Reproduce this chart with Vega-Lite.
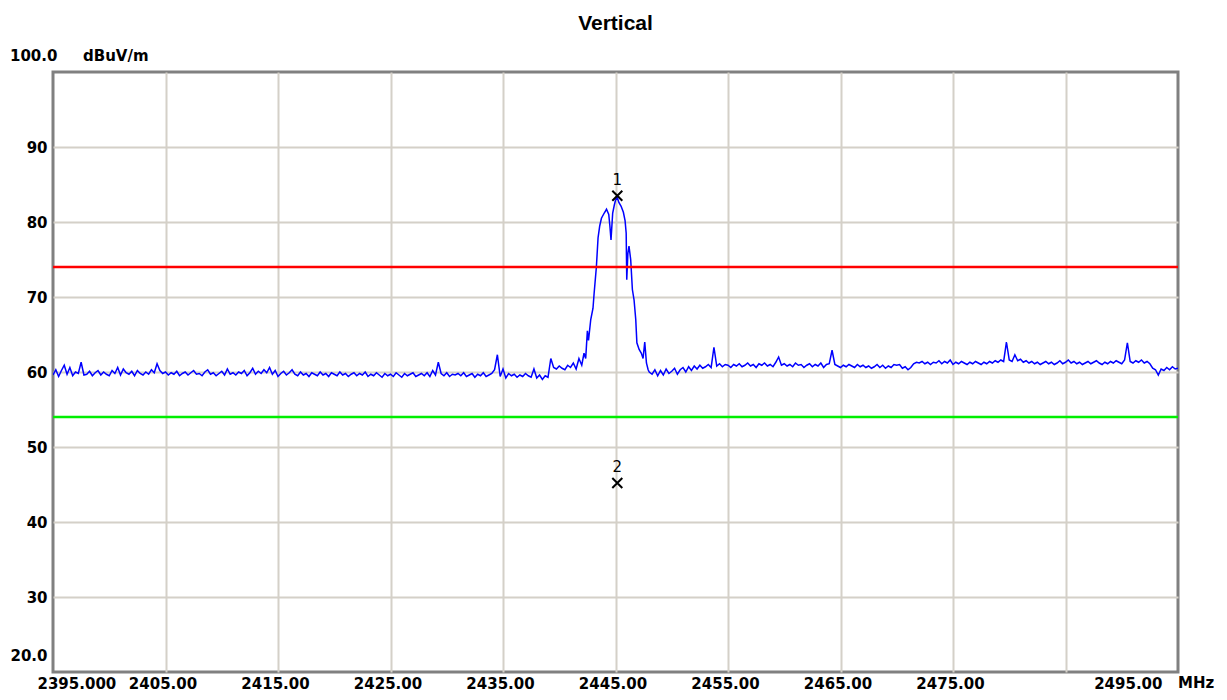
{
  "$schema": "https://vega.github.io/schema/vega-lite/v6.json",
  "width": 1125,
  "height": 600,
  "autosize": {"type": "none"},
  "padding": {"left": 53, "top": 72, "right": 49, "bottom": 28},
  "background": "white",
  "title": {"text": "Vertical", "font": "Liberation Sans", "fontSize": 21, "fontWeight": "bold", "color": "black", "anchor": "middle", "frame": "group", "baseline": "bottom", "offset": 10, "dy": 16},
  "config": {
    "view": {"stroke": "#808080", "strokeWidth": 3},
    "axis": {"domain": false, "ticks": false, "labelFont": "DejaVu Sans", "labelFontSize": 15, "labelFontWeight": "bold", "labelColor": "black", "gridColor": "#d4d0c8", "gridWidth": 2, "title": null}
  },
  "datasets": {
    "trace": [
      {"f":2395.00,"v":59.6},{"f":2395.25,"v":60.3},{"f":2395.50,"v":59.4},{"f":2395.75,"v":60.2},
      {"f":2396.00,"v":60.9},{"f":2396.25,"v":59.7},{"f":2396.50,"v":60.6},{"f":2396.75,"v":59.5},
      {"f":2397.00,"v":60.0},{"f":2397.25,"v":59.8},{"f":2397.50,"v":61.3},{"f":2397.75,"v":59.6},
      {"f":2398.00,"v":59.7},{"f":2398.25,"v":60.1},{"f":2398.50,"v":59.5},{"f":2398.75,"v":59.9},
      {"f":2399.00,"v":60.2},{"f":2399.25,"v":59.6},{"f":2399.50,"v":60.0},{"f":2399.75,"v":59.7},
      {"f":2400.00,"v":59.5},{"f":2400.25,"v":60.2},{"f":2400.50,"v":59.8},{"f":2400.75,"v":60.6},
      {"f":2401.00,"v":59.6},{"f":2401.25,"v":60.4},{"f":2401.50,"v":59.9},{"f":2401.75,"v":59.7},
      {"f":2402.00,"v":60.1},{"f":2402.25,"v":59.5},{"f":2402.50,"v":60.2},{"f":2402.75,"v":59.8},
      {"f":2403.00,"v":59.6},{"f":2403.25,"v":60.0},{"f":2403.50,"v":59.7},{"f":2403.75,"v":60.3},
      {"f":2404.00,"v":59.9},{"f":2404.25,"v":61.1},{"f":2404.50,"v":60.2},{"f":2404.75,"v":59.8},
      {"f":2405.00,"v":60.0},{"f":2405.25,"v":59.6},{"f":2405.50,"v":59.9},{"f":2405.75,"v":59.7},
      {"f":2406.00,"v":60.1},{"f":2406.25,"v":59.5},{"f":2406.50,"v":59.8},{"f":2406.75,"v":60.0},
      {"f":2407.00,"v":59.6},{"f":2407.25,"v":59.9},{"f":2407.50,"v":60.2},{"f":2407.75,"v":59.7},
      {"f":2408.00,"v":59.8},{"f":2408.25,"v":59.5},{"f":2408.50,"v":60.0},{"f":2408.75,"v":60.3},
      {"f":2409.00,"v":59.7},{"f":2409.25,"v":59.9},{"f":2409.50,"v":59.5},{"f":2409.75,"v":59.8},
      {"f":2410.00,"v":60.1},{"f":2410.25,"v":59.6},{"f":2410.50,"v":60.4},{"f":2410.75,"v":59.7},
      {"f":2411.00,"v":59.9},{"f":2411.25,"v":59.6},{"f":2411.50,"v":60.0},{"f":2411.75,"v":59.8},
      {"f":2412.00,"v":60.2},{"f":2412.25,"v":59.5},{"f":2412.50,"v":59.9},{"f":2412.75,"v":60.5},
      {"f":2413.00,"v":59.7},{"f":2413.25,"v":60.1},{"f":2413.50,"v":59.8},{"f":2413.75,"v":60.3},
      {"f":2414.00,"v":59.9},{"f":2414.25,"v":60.6},{"f":2414.50,"v":59.7},{"f":2414.75,"v":60.2},
      {"f":2415.00,"v":59.4},{"f":2415.25,"v":59.8},{"f":2415.50,"v":60.1},{"f":2415.75,"v":59.6},
      {"f":2416.00,"v":59.9},{"f":2416.25,"v":60.3},{"f":2416.50,"v":59.7},{"f":2416.75,"v":59.5},
      {"f":2417.00,"v":60.0},{"f":2417.25,"v":59.6},{"f":2417.50,"v":59.8},{"f":2417.75,"v":59.4},
      {"f":2418.00,"v":59.9},{"f":2418.25,"v":59.7},{"f":2418.50,"v":59.5},{"f":2418.75,"v":60.0},
      {"f":2419.00,"v":59.6},{"f":2419.25,"v":59.8},{"f":2419.50,"v":59.4},{"f":2419.75,"v":59.9},
      {"f":2420.00,"v":59.7},{"f":2420.25,"v":59.5},{"f":2420.50,"v":60.0},{"f":2420.75,"v":59.6},
      {"f":2421.00,"v":59.8},{"f":2421.25,"v":59.4},{"f":2421.50,"v":59.7},{"f":2421.75,"v":59.9},
      {"f":2422.00,"v":59.5},{"f":2422.25,"v":59.8},{"f":2422.50,"v":59.6},{"f":2422.75,"v":60.0},
      {"f":2423.00,"v":59.4},{"f":2423.25,"v":59.7},{"f":2423.50,"v":59.5},{"f":2423.75,"v":59.9},
      {"f":2424.00,"v":59.6},{"f":2424.25,"v":59.3},{"f":2424.50,"v":59.8},{"f":2424.75,"v":59.5},
      {"f":2425.00,"v":59.7},{"f":2425.25,"v":59.4},{"f":2425.50,"v":59.9},{"f":2425.75,"v":59.6},
      {"f":2426.00,"v":59.3},{"f":2426.25,"v":59.8},{"f":2426.50,"v":59.5},{"f":2426.75,"v":59.7},
      {"f":2427.00,"v":59.9},{"f":2427.25,"v":59.4},{"f":2427.50,"v":59.6},{"f":2427.75,"v":59.8},
      {"f":2428.00,"v":59.5},{"f":2428.25,"v":59.9},{"f":2428.50,"v":59.4},{"f":2428.75,"v":60.2},
      {"f":2429.00,"v":59.6},{"f":2429.25,"v":61.3},{"f":2429.50,"v":59.8},{"f":2429.75,"v":59.5},
      {"f":2430.00,"v":59.9},{"f":2430.25,"v":59.4},{"f":2430.50,"v":59.7},{"f":2430.75,"v":59.6},
      {"f":2431.00,"v":59.8},{"f":2431.25,"v":59.5},{"f":2431.50,"v":59.9},{"f":2431.75,"v":59.4},
      {"f":2432.00,"v":59.6},{"f":2432.25,"v":59.8},{"f":2432.50,"v":59.3},{"f":2432.75,"v":59.7},
      {"f":2433.00,"v":59.5},{"f":2433.25,"v":59.9},{"f":2433.50,"v":59.4},{"f":2433.75,"v":59.6},
      {"f":2434.00,"v":59.8},{"f":2434.25,"v":60.3},{"f":2434.50,"v":62.3},{"f":2434.75,"v":59.4},
      {"f":2435.00,"v":60.4},{"f":2435.25,"v":59.2},{"f":2435.50,"v":59.8},{"f":2435.75,"v":59.5},
      {"f":2436.00,"v":59.7},{"f":2436.25,"v":59.3},{"f":2436.50,"v":59.6},{"f":2436.75,"v":59.4},
      {"f":2437.00,"v":59.8},{"f":2437.25,"v":59.5},{"f":2437.50,"v":59.3},{"f":2437.75,"v":60.4},
      {"f":2438.00,"v":59.2},{"f":2438.25,"v":59.6},{"f":2438.50,"v":59.0},{"f":2438.75,"v":59.5},
      {"f":2439.00,"v":59.3},{"f":2439.25,"v":61.8},{"f":2439.50,"v":60.6},{"f":2439.75,"v":60.4},
      {"f":2440.00,"v":60.8},{"f":2440.25,"v":60.5},{"f":2440.50,"v":60.3},{"f":2440.75,"v":60.9},
      {"f":2441.00,"v":60.6},{"f":2441.25,"v":61.2},{"f":2441.50,"v":60.4},{"f":2441.75,"v":61.8},
      {"f":2442.00,"v":60.9},{"f":2442.20,"v":62.5},{"f":2442.35,"v":61.8},{"f":2442.50,"v":65.5},
      {"f":2442.60,"v":64.2},{"f":2442.80,"v":67.0},{"f":2443.00,"v":68.5},{"f":2443.10,"v":70.5},
      {"f":2443.30,"v":74.0},{"f":2443.45,"v":77.9},{"f":2443.60,"v":79.5},{"f":2443.75,"v":80.5},
      {"f":2444.00,"v":81.2},{"f":2444.20,"v":81.7},{"f":2444.40,"v":81.0},{"f":2444.50,"v":79.5},
      {"f":2444.60,"v":77.6},{"f":2444.75,"v":81.2},{"f":2444.90,"v":82.3},{"f":2445.00,"v":82.9},
      {"f":2445.15,"v":83.3},{"f":2445.30,"v":82.6},{"f":2445.50,"v":82.1},{"f":2445.70,"v":81.3},
      {"f":2445.85,"v":80.2},{"f":2445.95,"v":78.5},{"f":2446.00,"v":72.3},{"f":2446.10,"v":75.8},
      {"f":2446.20,"v":76.8},{"f":2446.35,"v":75.0},{"f":2446.50,"v":71.0},{"f":2446.65,"v":69.6},
      {"f":2446.80,"v":67.0},{"f":2446.90,"v":63.9},{"f":2447.10,"v":63.0},{"f":2447.30,"v":62.5},
      {"f":2447.45,"v":61.8},{"f":2447.60,"v":64.0},{"f":2447.75,"v":61.2},{"f":2447.90,"v":60.3},
      {"f":2448.00,"v":60.0},{"f":2448.25,"v":59.7},{"f":2448.50,"v":60.3},{"f":2448.75,"v":59.5},
      {"f":2449.00,"v":60.2},{"f":2449.25,"v":59.6},{"f":2449.50,"v":60.4},{"f":2449.75,"v":59.8},
      {"f":2450.00,"v":60.1},{"f":2450.25,"v":60.5},{"f":2450.50,"v":59.7},{"f":2450.75,"v":60.3},
      {"f":2451.00,"v":60.6},{"f":2451.25,"v":60.0},{"f":2451.50,"v":60.7},{"f":2451.75,"v":60.2},
      {"f":2452.00,"v":60.8},{"f":2452.25,"v":60.4},{"f":2452.50,"v":60.9},{"f":2452.75,"v":60.5},
      {"f":2453.00,"v":60.7},{"f":2453.25,"v":61.0},{"f":2453.50,"v":60.6},{"f":2453.75,"v":63.3},
      {"f":2454.00,"v":60.8},{"f":2454.25,"v":61.1},{"f":2454.50,"v":60.7},{"f":2454.75,"v":61.0},
      {"f":2455.00,"v":60.9},{"f":2455.25,"v":60.6},{"f":2455.50,"v":61.0},{"f":2455.75,"v":60.8},
      {"f":2456.00,"v":61.1},{"f":2456.25,"v":60.7},{"f":2456.50,"v":60.9},{"f":2456.75,"v":61.2},
      {"f":2457.00,"v":60.8},{"f":2457.25,"v":61.0},{"f":2457.50,"v":60.6},{"f":2457.75,"v":61.1},
      {"f":2458.00,"v":60.9},{"f":2458.25,"v":61.2},{"f":2458.50,"v":60.8},{"f":2458.75,"v":61.0},
      {"f":2459.00,"v":60.7},{"f":2459.25,"v":61.3},{"f":2459.50,"v":62.0},{"f":2459.75,"v":60.9},
      {"f":2460.00,"v":61.1},{"f":2460.25,"v":60.8},{"f":2460.50,"v":61.0},{"f":2460.75,"v":60.7},
      {"f":2461.00,"v":61.2},{"f":2461.25,"v":60.9},{"f":2461.50,"v":61.0},{"f":2461.75,"v":60.6},
      {"f":2462.00,"v":60.9},{"f":2462.25,"v":61.1},{"f":2462.50,"v":60.7},{"f":2462.75,"v":61.0},
      {"f":2463.00,"v":60.8},{"f":2463.25,"v":61.2},{"f":2463.50,"v":60.6},{"f":2463.75,"v":61.0},
      {"f":2464.00,"v":61.1},{"f":2464.25,"v":62.9},{"f":2464.50,"v":61.0},{"f":2464.75,"v":60.8},
      {"f":2465.00,"v":60.6},{"f":2465.25,"v":60.9},{"f":2465.50,"v":60.7},{"f":2465.75,"v":61.0},
      {"f":2466.00,"v":60.8},{"f":2466.25,"v":60.6},{"f":2466.50,"v":61.0},{"f":2466.75,"v":60.7},
      {"f":2467.00,"v":60.9},{"f":2467.25,"v":60.6},{"f":2467.50,"v":60.8},{"f":2467.75,"v":60.5},
      {"f":2468.00,"v":60.7},{"f":2468.25,"v":61.0},{"f":2468.50,"v":60.6},{"f":2468.75,"v":60.9},
      {"f":2469.00,"v":60.5},{"f":2469.25,"v":60.8},{"f":2469.50,"v":60.6},{"f":2469.75,"v":61.0},
      {"f":2470.00,"v":60.9},{"f":2470.25,"v":61.0},{"f":2470.50,"v":60.5},{"f":2470.75,"v":60.7},
      {"f":2471.00,"v":60.3},{"f":2471.25,"v":60.6},{"f":2471.50,"v":61.1},{"f":2471.75,"v":61.3},
      {"f":2472.00,"v":61.2},{"f":2472.25,"v":61.4},{"f":2472.50,"v":61.1},{"f":2472.75,"v":61.3},
      {"f":2473.00,"v":61.0},{"f":2473.25,"v":61.3},{"f":2473.50,"v":61.2},{"f":2473.75,"v":61.5},
      {"f":2474.00,"v":61.1},{"f":2474.25,"v":61.4},{"f":2474.50,"v":61.2},{"f":2474.75,"v":61.6},
      {"f":2475.00,"v":61.0},{"f":2475.25,"v":61.3},{"f":2475.50,"v":61.1},{"f":2475.75,"v":61.4},
      {"f":2476.00,"v":61.2},{"f":2476.25,"v":61.0},{"f":2476.50,"v":61.3},{"f":2476.75,"v":61.1},
      {"f":2477.00,"v":61.4},{"f":2477.25,"v":61.2},{"f":2477.50,"v":61.0},{"f":2477.75,"v":61.3},
      {"f":2478.00,"v":61.1},{"f":2478.25,"v":61.4},{"f":2478.50,"v":61.2},{"f":2478.75,"v":61.5},
      {"f":2479.00,"v":61.3},{"f":2479.25,"v":61.6},{"f":2479.50,"v":61.4},{"f":2479.75,"v":64.0},
      {"f":2480.00,"v":61.6},{"f":2480.25,"v":61.4},{"f":2480.50,"v":62.3},{"f":2480.75,"v":61.5},
      {"f":2481.00,"v":61.7},{"f":2481.25,"v":61.3},{"f":2481.50,"v":61.5},{"f":2481.75,"v":61.2},
      {"f":2482.00,"v":61.4},{"f":2482.25,"v":61.1},{"f":2482.50,"v":61.3},{"f":2482.75,"v":61.0},
      {"f":2483.00,"v":61.2},{"f":2483.25,"v":61.4},{"f":2483.50,"v":61.1},{"f":2483.75,"v":61.3},
      {"f":2484.00,"v":61.0},{"f":2484.25,"v":61.2},{"f":2484.50,"v":61.5},{"f":2484.75,"v":61.1},
      {"f":2485.00,"v":61.3},{"f":2485.25,"v":61.6},{"f":2485.50,"v":61.2},{"f":2485.75,"v":61.4},
      {"f":2486.00,"v":61.1},{"f":2486.25,"v":61.3},{"f":2486.50,"v":61.0},{"f":2486.75,"v":61.2},
      {"f":2487.00,"v":61.4},{"f":2487.25,"v":61.1},{"f":2487.50,"v":61.3},{"f":2487.75,"v":61.5},
      {"f":2488.00,"v":61.2},{"f":2488.25,"v":61.0},{"f":2488.50,"v":61.3},{"f":2488.75,"v":61.1},
      {"f":2489.00,"v":61.4},{"f":2489.25,"v":61.2},{"f":2489.50,"v":61.5},{"f":2489.75,"v":61.3},
      {"f":2490.00,"v":61.1},{"f":2490.25,"v":61.6},{"f":2490.50,"v":63.9},{"f":2490.75,"v":61.4},
      {"f":2491.00,"v":61.2},{"f":2491.25,"v":61.5},{"f":2491.50,"v":61.3},{"f":2491.75,"v":61.6},
      {"f":2492.00,"v":61.2},{"f":2492.25,"v":61.4},{"f":2492.50,"v":61.1},{"f":2492.75,"v":60.5},
      {"f":2493.00,"v":60.3},{"f":2493.25,"v":59.6},{"f":2493.50,"v":60.4},{"f":2493.75,"v":60.2},
      {"f":2494.00,"v":60.6},{"f":2494.25,"v":60.3},{"f":2494.50,"v":60.7},{"f":2494.75,"v":60.4},
      {"f":2495.00,"v":60.5}
    ],
    "limitHigh": [{"name": "Limit 1", "v": 74}],
    "limitLow": [{"name": "Limit 2", "v": 54}],
    "markers": [{"m": "1", "f": 2445.16, "v": 83.5}, {"m": "2", "f": 2445.16, "v": 45.2}],
    "blank": [{}]
  },
  "layer": [
    {
      "data": {"name": "trace"},
      "mark": {"type": "line", "color": "#0000ff", "strokeWidth": 1.5, "clip": true},
      "encoding": {
        "x": {"field": "f", "type": "quantitative",
          "scale": {"domain": [2395, 2495], "nice": false, "zero": false},
          "axis": {"values": [2395, 2405, 2415, 2425, 2435, 2445, 2455, 2465, 2475, 2485, 2495],
            "labelExpr": "datum.value == 2395 ? '2395.000' : (datum.value == 2485 ? '' : format(datum.value, '.2f'))",
            "labelAlign": {"condition": [{"test": "datum.value == 2395", "value": "left"}, {"test": "datum.value == 2495", "value": "right"}], "value": "center"},
            "labelOffset": {"condition": [{"test": "datum.value == 2395", "value": -16}, {"test": "datum.value == 2495", "value": -16}], "value": -3},
            "labelBaseline": "top", "labelPadding": 4, "labelFlush": false, "labelOverlap": false,
            "gridOpacity": {"condition": {"test": "datum.value == 2395 || datum.value == 2495", "value": 0}, "value": 1}}},
        "y": {"field": "v", "type": "quantitative",
          "scale": {"domain": [20, 100], "nice": false, "zero": false},
          "axis": {"values": [20, 30, 40, 50, 60, 70, 80, 90, 100],
            "labelExpr": "datum.value == 100 ? '' : (datum.value == 20 ? '20.0' : datum.label)",
            "labelOffset": {"condition": {"test": "datum.value == 20", "value": -17}, "value": 0},
            "labelPadding": 6, "labelBaseline": "middle", "labelFlush": false, "labelOverlap": false,
            "gridOpacity": {"condition": {"test": "datum.value == 20 || datum.value == 100", "value": 0}, "value": 1}}}
      }
    },
    {
      "data": {"name": "limitHigh"},
      "mark": {"type": "rule", "color": "#ff0000", "strokeWidth": 2.5},
      "encoding": {"y": {"field": "v", "type": "quantitative"}}
    },
    {
      "data": {"name": "limitLow"},
      "mark": {"type": "rule", "color": "#00ee00", "strokeWidth": 2.5},
      "encoding": {"y": {"field": "v", "type": "quantitative"}}
    },
    {
      "data": {"name": "markers"},
      "mark": {"type": "point", "shape": "M-1,-1L1,1M1,-1L-1,1", "size": 100, "filled": false, "stroke": "black", "strokeWidth": 2, "opacity": 1},
      "encoding": {"x": {"field": "f", "type": "quantitative"}, "y": {"field": "v", "type": "quantitative"}}
    },
    {
      "data": {"name": "markers"},
      "mark": {"type": "text", "font": "DejaVu Sans", "fontSize": 15, "color": "black", "dy": -16, "align": "center", "baseline": "middle"},
      "encoding": {"x": {"field": "f", "type": "quantitative"}, "y": {"field": "v", "type": "quantitative"}, "text": {"field": "m"}}
    },
    {
      "data": {"name": "blank"},
      "mark": {"type": "text", "font": "DejaVu Sans", "fontSize": 15, "fontWeight": "bold", "color": "black", "align": "left", "baseline": "middle", "dx": -43, "dy": -16},
      "encoding": {"x": {"datum": 2395}, "y": {"datum": 100}, "text": {"value": "100.0"}}
    },
    {
      "data": {"name": "blank"},
      "mark": {"type": "text", "font": "DejaVu Sans", "fontSize": 15, "fontWeight": "bold", "color": "black", "align": "left", "baseline": "middle", "dx": 30, "dy": -16},
      "encoding": {"x": {"datum": 2395}, "y": {"datum": 100}, "text": {"value": "dBuV/m"}}
    },
    {
      "data": {"name": "blank"},
      "mark": {"type": "text", "font": "DejaVu Sans", "fontSize": 15, "fontWeight": "bold", "color": "black", "align": "left", "baseline": "top", "dx": 0, "dy": 4},
      "encoding": {"x": {"datum": 2495}, "y": {"datum": 20}, "text": {"value": "MHz"}}
    }
  ]
}
